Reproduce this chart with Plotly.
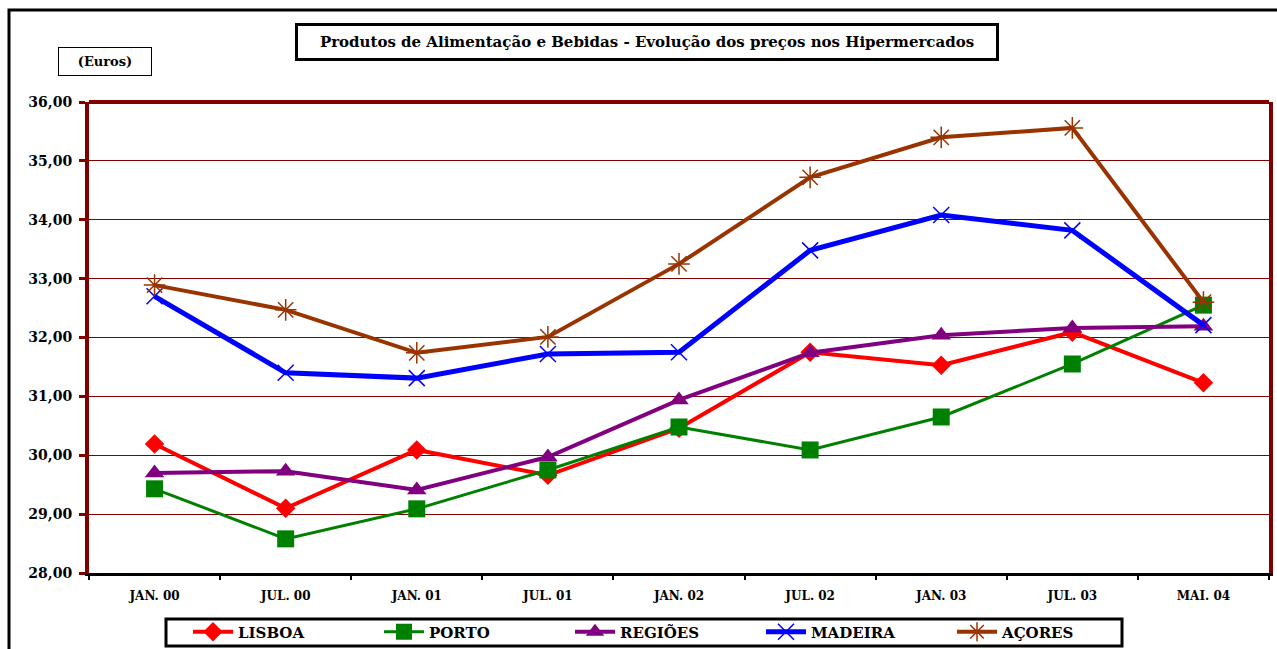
import plotly.graph_objects as go

categories = ["JAN. 00", "JUL. 00", "JAN. 01", "JUL. 01", "JAN. 02", "JUL. 02", "JAN. 03", "JUL. 03", "MAI. 04"]
lisboa = [30.19, 29.10, 30.09, 29.66, 30.46, 31.75, 31.53, 32.09, 31.23]
porto = [29.43, 28.58, 29.09, 29.75, 30.48, 30.09, 30.65, 31.55, 32.55]
regioes = [29.70, 29.73, 29.41, 29.97, 30.94, 31.74, 32.04, 32.16, 32.19]
madeira = [32.70, 31.40, 31.31, 31.72, 31.75, 33.48, 34.08, 33.82, 32.21]
acores = [32.89, 32.47, 31.74, 32.01, 33.25, 34.72, 35.40, 35.56, 32.60]
y_ticks = [28, 29, 30, 31, 32, 33, 34, 35, 36]

FONT = "DejaVu Serif"
DARKRED = "#800000"

series = [
    ("LISBOA", lisboa, "#FF0000", "diamond", 15, 4, 0),
    ("PORTO", porto, "#008000", "square", 17, 3, 0),
    ("REGIÕES", regioes, "#800080", "triangle-up", 17, 4, 0),
    ("MADEIRA", madeira, "#0000FF", "x-thin-open", 16, 5, 1.5),
    ("AÇORES", acores, "#993300", "asterisk-open", 18, 4, 1.5),
]

fig = go.Figure()
for name, vals, color, sym, size, lw, mlw in series:
    marker = dict(symbol=sym, size=size, color=color)
    if mlw:
        marker["line"] = dict(color=color, width=mlw)
    else:
        marker["line"] = dict(width=0)
    fig.add_trace(go.Scatter(
        x=categories, y=vals, name=name, mode="lines+markers",
        line=dict(color=color, width=lw), marker=marker,
    ))

W, H = 1277, 649
L, R, T, B = 89, 8, 102, 76
PW, PH = W - L - R, H - T - B


def px(x):
    return (x - L) / PW


def py(y):
    return (H - B - y) / PH


fig.update_layout(
    width=W, height=H, autosize=False,
    margin=dict(l=L, r=R, t=T, b=B, autoexpand=False),
    paper_bgcolor="white", plot_bgcolor="white",
    separators=",.",
    font=dict(family=FONT, color="black"),
    showlegend=True,
    legend=dict(
        orientation="h", xref="container", yref="container",
        x=188 / W, y=1 - 632 / H, xanchor="left", yanchor="middle",
        borderwidth=0, bgcolor="rgba(0,0,0,0)",
        font=dict(family=FONT, size=15, color="black", weight="bold"),
        entrywidth=136, entrywidthmode="pixels", itemwidth=40,
        tracegroupgap=0,
    ),
    xaxis=dict(
        type="category", range=[-0.5, 8.5],
        showline=True, linecolor="black", linewidth=3,
        ticks="outside", tickson="boundaries", ticklen=4, tickwidth=2, tickcolor="black",
        showgrid=False,
        tickfont=dict(family=FONT, size=12, color="black", weight="bold"),
        ticklabelstandoff=10,
    ),
    yaxis=dict(
        range=[28, 36], tickvals=y_ticks, tickformat=".2f",
        showline=True, linecolor=DARKRED, linewidth=4, mirror=True,
        ticks="outside", ticklen=6, tickwidth=3, tickcolor=DARKRED,
        showgrid=True, gridcolor=DARKRED, gridwidth=1, zeroline=False,
        tickfont=dict(family=FONT, size=14, color="black", weight="bold"),
        ticklabelstandoff=4,
    ),
    shapes=[
        dict(type="line", xref="paper", yref="paper", x0=0, x1=1, y0=1, y1=1,
             line=dict(color=DARKRED, width=4)),
        # outer frame
        dict(type="rect", xref="paper", yref="paper",
             x0=px(9), x1=px(1300), y0=py(680), y1=py(10),
             line=dict(color="black", width=3), layer="below"),
        # legend frame
        dict(type="rect", xref="paper", yref="paper",
             x0=px(166), x1=px(1122), y0=py(646), y1=py(619),
             line=dict(color="black", width=3), fillcolor="white", layer="below"),
    ],
    annotations=[
        dict(text="Produtos de Alimentação e Bebidas - Evolução dos preços nos Hipermercados",
             xref="paper", yref="paper", x=px(647), y=py(42),
             showarrow=False, xanchor="center", yanchor="middle",
             font=dict(family=FONT, size=15, color="black", weight="bold"),
             bordercolor="black", borderwidth=3, borderpad=7, bgcolor="white",
             width=684),
        dict(text="(Euros)",
             xref="paper", yref="paper", x=px(105), y=py(61),
             showarrow=False, xanchor="center", yanchor="middle",
             font=dict(family=FONT, size=13, color="black", weight="bold"),
             bordercolor="black", borderwidth=1, borderpad=6, bgcolor="white",
             width=80),
    ],
)

fig.write_html(
    "out.html",
    config={"displayModeBar": False},
    post_script="document.body.style.margin='0';document.body.style.overflow='hidden';",
)
